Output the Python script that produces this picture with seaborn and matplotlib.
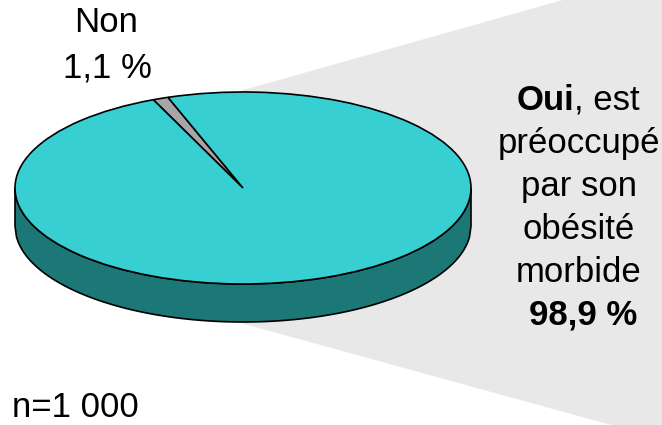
import numpy as np
import matplotlib
matplotlib.use("Agg")
import matplotlib.pyplot as plt
import seaborn as sns

# data
labels = ["Non", "Oui"]
values = [1.1, 98.9]
sample_size = "n=1 000"

sns.set_theme(style="white")
plt.rcParams["font.family"] = ["Liberation Sans", "DejaVu Sans"]

W, H = 662, 425
CX, CY = 243, 188      # pie centre (pixels)
RX, RY = 228, 96       # pie half-axes (pixels)
DEPTH = 38             # side height (pixels)


def px(x, y):
    # pixel position -> data coords of the full-figure axes
    return (x - CX) / RX, (CY - y) / RY


fig = plt.figure(figsize=(W / 100, H / 100), dpi=100)
ax = fig.add_axes([0, 0, 1, 1])

colors = ["#a6a6a6", "#37cfd2"]
ax.pie(values, colors=colors, startangle=109.2, counterclock=True, radius=1,
       wedgeprops=dict(edgecolor="black", linewidth=1.2, zorder=3))

# side of the "3d" disc
xs = np.linspace(-1, 1, 300)
top = -np.sqrt(1 - xs ** 2)
d = DEPTH / RY
side_x = np.concatenate([xs, xs[::-1]])
side_y = np.concatenate([top, (top - d)[::-1]])
ax.fill(side_x, side_y, facecolor="#1c7876", edgecolor="black", linewidth=1.2, zorder=2)

# grey callout behind the pie
poly = [px(240, 91), px(662, -28), px(662, 439), px(237, 322)]
ax.fill([p[0] for p in poly], [p[1] for p in poly], color="#e8e8e8", lw=0, zorder=1)

ax.set_aspect("auto")
ax.set_xlim(px(0, 0)[0], px(W, 0)[0])
ax.set_ylim(px(0, H)[1], px(0, 0)[1])
ax.axis("off")

fs = 25
kw = dict(fontsize=fs, color="black", va="baseline", zorder=5)

# Non label
ax.text(*px(106, 32), labels[0], ha="center", **kw)
ax.text(*px(107, 77), f"{values[0]:.1f} %".replace(".", ","), ha="center", **kw)

# Oui label
ax.text(*px(574, 110), labels[1], ha="right", fontweight="bold", **kw)
ax.text(*px(574, 110), ", est", ha="left", **kw)
lines = ["préoccupé", "par son", "obésité", "morbide"]
for i, line in enumerate(lines):
    ax.text(*px(579, 153 + 43 * i), line, ha="center", **kw)
ax.text(*px(583, 325), f"{values[1]:.1f} %".replace(".", ","), ha="center",
        fontweight="bold", **kw)

ax.text(*px(12, 417), sample_size, ha="left", **kw)

fig.savefig("out.png", dpi=100)
plt.close(fig)
